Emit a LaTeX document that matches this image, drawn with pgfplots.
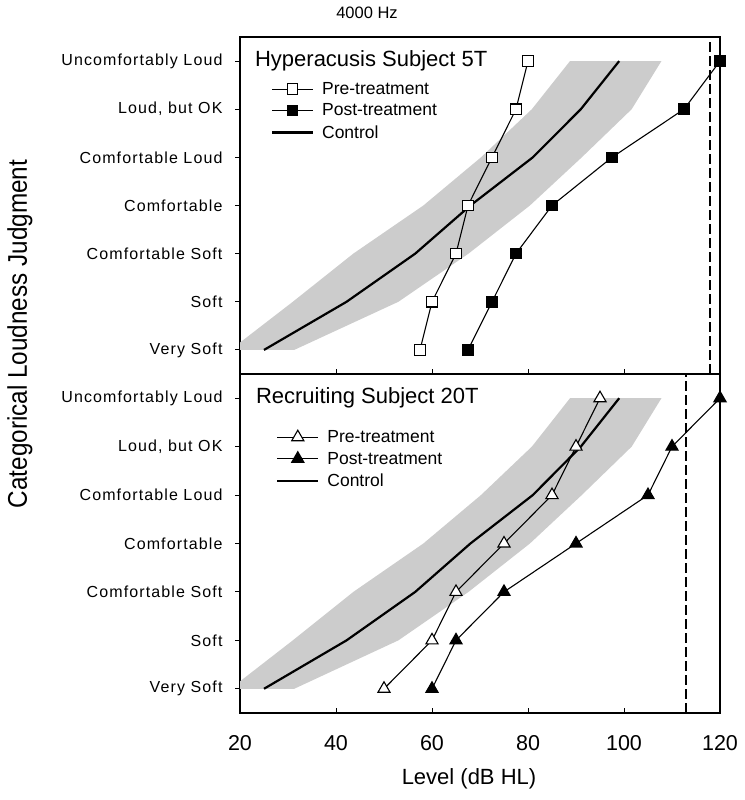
\documentclass[border=0pt]{standalone}
\usepackage{fontspec}
\setmainfont{Liberation Sans}
\usepackage{pgfplots}
\pgfplotsset{compat=1.18}

\pgfplotstableread{
x y
18 0
31 1
43.6 2
58.2 3
70.2 4
80.8 5
88.75 6
107.8 6
101.6 5
91.2 4
80.4 3
67.6 2
53 1
31.3 0
}\band

\pgfplotstableread{
x y
25 0
42.2 1
56.5 2
68 3
81 4
91 5
99 6
}\control

\pgfplotsset{
  panel/.style={
    scale only axis, width=480pt,
    xmin=20, xmax=120, ymin=-0.5, ymax=6.5,
    xtick={20,40,...,120}, ytick={0,...,6},
    yticklabels={Very Soft, Soft, Comfortable Soft, Comfortable, Comfortable Loud, {Loud, but OK}, Uncomfortably Loud},
    xtick pos=bottom, ytick pos=left, xtick align=inside, ytick align=outside,
    major tick length=5pt,
    axis line style={line width=1.1pt},
    every tick/.style={black, line width=1pt},
    yticklabel style={font=\fontsize{16}{18}\selectfont\addfontfeatures{LetterSpace=7}, xshift=-9pt},
    xticklabel style={font=\fontsize{21.5}{24}\selectfont, yshift=-19pt},
    /pgf/number format/assume math mode=true,
    legend style={draw=none, fill=none, inner sep=0pt, anchor=north west,
      font=\fontsize{17.5}{20}\selectfont, row sep=4pt,
      nodes={inner sep=2pt},
      /tikz/column 1/.style={column sep=6pt}},
    legend cell align=left,
    legend image code/.code={\draw[mark repeat=2,mark phase=2,##1] plot coordinates {(0pt,0pt) (20.5pt,0pt) (41pt,0pt)};},
  },
  data/.style={black, line width=1.1pt, mark options={solid, line width=0.9pt}},
}

\begin{document}
\begin{tikzpicture}[x=1pt,y=1pt]
\path[use as bounding box] (0,0) rectangle (744,800);

\begin{axis}[panel, height=337pt, at={(240pt,426pt)}, anchor=south west,
  xticklabels={},
  legend style={at={(rel axis cs:0.064,0.872)}}]
  \addplot[fill=black!20, draw=none, forget plot] table[x=x,y=y] {\band} -- cycle;
  \addplot[black, line width=2.2pt, forget plot] table[x=x,y=y] {\control};
  \addplot[data, mark=square*, mark size=5.2pt, mark options={fill=white}] coordinates {
    (57.5,0) (60,1) (65,2) (67.5,3) (72.5,4) (77.5,5) (80,6)};
  \addlegendentry{Pre-treatment}
  \addplot[data, mark=square*, mark size=5.2pt, mark options={fill=black}] coordinates {
    (67.5,0) (72.5,1) (77.5,2) (85,3) (97.5,4) (112.5,5) (120,6)};
  \addlegendentry{Post-treatment}
  \addlegendimage{black, line width=2.2pt}
  \addlegendentry{Control}
  \addplot[black, line width=2pt, dash pattern=on 10pt off 4pt, forget plot] coordinates {(118,-0.5) (118,6.5)};
  \node[anchor=west, font=\fontsize{22}{24}\selectfont, inner sep=0pt] at (axis cs:23.1,6) {Hyperacusis Subject 5T};
\end{axis}

\begin{axis}[panel, height=339pt, at={(240pt,87pt)}, anchor=south west,
  legend style={at={(rel axis cs:0.075,0.84)}}]
  \addplot[fill=black!20, draw=none, forget plot] table[x=x,y=y] {\band} -- cycle;
  \addplot[black, line width=2.2pt, forget plot] table[x=x,y=y] {\control};
  \addplot[data, mark=triangle*, mark size=7pt, mark options={fill=white}] coordinates {
    (50,0) (60,1) (65,2) (75,3) (85,4) (90,5) (95,6)};
  \addlegendentry{Pre-treatment}
  \addplot[data, mark=triangle*, mark size=7pt, mark options={fill=black}] coordinates {
    (60,0) (65,1) (75,2) (90,3) (105,4) (110,5) (120,6)};
  \addlegendentry{Post-treatment}
  \addlegendimage{black, line width=2.2pt}
  \addlegendentry{Control}
  \addplot[black, line width=2pt, dash pattern=on 10pt off 4pt, forget plot] coordinates {(113,-0.5) (113,6.5)};
  \node[anchor=west, font=\fontsize{22}{24}\selectfont, inner sep=0pt] at (axis cs:23.3,6) {Recruiting Subject 20T};
\end{axis}

\node[font=\fontsize{16.5}{19}\selectfont] at (367,787) {4000 Hz};
\node[font=\fontsize{22}{26}\selectfont] at (469,21) {Level (dB HL)};
\node[rotate=90, font=\fontsize{27}{30}\selectfont] at (20,466) {\scalebox{0.9}[1]{Categorical Loudness Judgment}};
\end{tikzpicture}
\end{document}
